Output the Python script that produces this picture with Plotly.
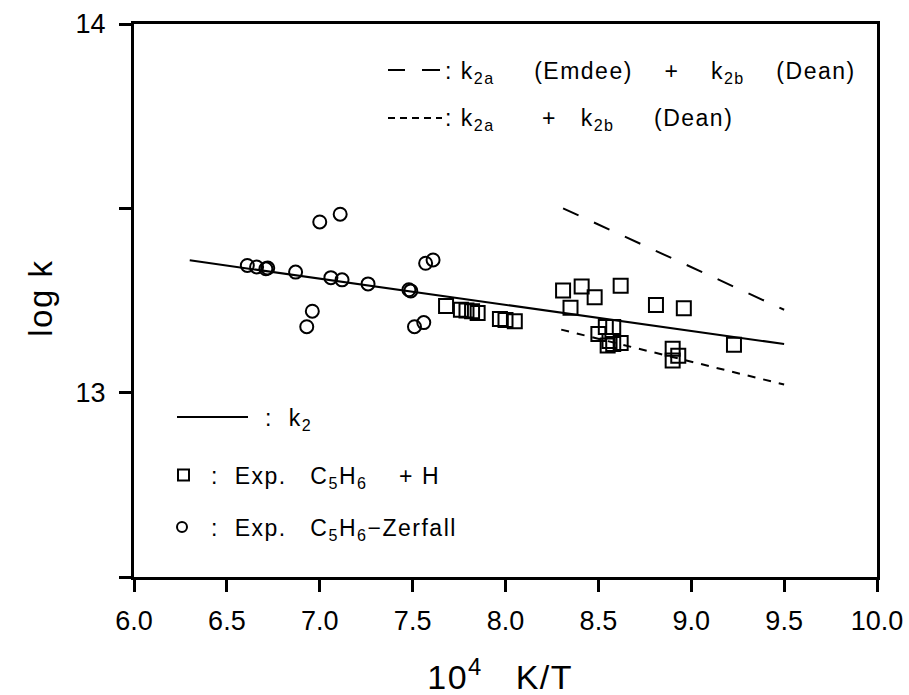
import plotly.graph_objects as go

# Rate constant for C5H6 + H / C5H6 decomposition, log k vs 10^4 K/T

# Experimental points: C5H6 decomposition (circles)
zerfall_x = [6.61, 6.66, 6.71, 6.72, 6.87, 7.06, 7.12, 7.26, 7.48, 7.49,
             7.00, 7.11, 7.57, 7.61, 6.96, 6.93, 7.51, 7.56]
zerfall_y = [13.345, 13.341, 13.336, 13.338, 13.327, 13.312, 13.306, 13.295, 13.279, 13.276,
             13.463, 13.484, 13.351, 13.360, 13.221, 13.179, 13.179, 13.190]

# Experimental points: C5H6 + H (squares)
addh_x = [7.68, 7.76, 7.79, 7.82, 7.85, 7.97, 8.00, 8.05,
          8.31, 8.41, 8.48, 8.35, 8.62, 8.81, 8.96,
          8.50, 8.54, 8.58, 8.55, 8.58, 8.62, 8.56,
          8.90, 8.93, 8.90, 9.23]
addh_y = [13.235, 13.225, 13.223, 13.221, 13.216, 13.200, 13.197, 13.194,
          13.277, 13.288, 13.259, 13.230, 13.290, 13.238, 13.229,
          13.159, 13.178, 13.178, 13.128, 13.132, 13.135, 13.140,
          13.119, 13.100, 13.087, 13.130]

# Model curves
k2_x = [6.30, 9.50]
k2_y = [13.359, 13.132]
emdee_x = [8.31, 9.50]
emdee_y = [13.500, 13.225]
dean_x = [8.30, 9.50]
dean_y = [13.171, 13.022]

x_ticks = [6.0, 6.5, 7.0, 7.5, 8.0, 8.5, 9.0, 9.5, 10.0]
y_ticks = [12.5, 13.0, 13.5, 14.0]
y_ticktext = ["", "13", "", "14"]

FONT = "Liberation Sans, Arial, Helvetica, sans-serif"
BLACK = "#000000"

fig = go.Figure()

fig.add_trace(go.Scatter(x=k2_x, y=k2_y, mode="lines",
                         line=dict(color=BLACK, width=2), hoverinfo="skip"))
fig.add_trace(go.Scatter(x=emdee_x, y=emdee_y, mode="lines",
                         line=dict(color=BLACK, width=2, dash="17px,17px"), hoverinfo="skip"))
fig.add_trace(go.Scatter(x=dean_x, y=dean_y, mode="lines",
                         line=dict(color=BLACK, width=2, dash="8px,8px"), hoverinfo="skip"))
fig.add_trace(go.Scatter(x=zerfall_x, y=zerfall_y, mode="markers",
                         marker=dict(symbol="circle-open", size=13,
                                     line=dict(color=BLACK, width=2), color=BLACK)))
fig.add_trace(go.Scatter(x=addh_x, y=addh_y, mode="markers",
                         marker=dict(symbol="square-open", size=14,
                                     line=dict(color=BLACK, width=2), color=BLACK)))

# Plot area in pixels, used to place the key in paper units
L, R, T, B = 134, 877, 24, 577


def px(xp):
    return (xp - L) / (R - L)


def py(yp):
    return (B - yp) / (B - T)


shapes = []
# long-dash key
shapes.append(dict(type="line", xref="paper", yref="paper",
                   x0=px(388), x1=px(405), y0=py(70), y1=py(70),
                   line=dict(color=BLACK, width=2)))
shapes.append(dict(type="line", xref="paper", yref="paper",
                   x0=px(422), x1=px(440), y0=py(70), y1=py(70),
                   line=dict(color=BLACK, width=2)))
# short-dash key
shapes.append(dict(type="line", xref="paper", yref="paper",
                   x0=px(388), x1=px(442), y0=py(118), y1=py(118),
                   line=dict(color=BLACK, width=2, dash="7px,5px")))
# solid key
shapes.append(dict(type="line", xref="paper", yref="paper",
                   x0=px(177), x1=px(248), y0=py(417), y1=py(417),
                   line=dict(color=BLACK, width=2)))
# square key
shapes.append(dict(type="rect", xref="paper", yref="paper",
                   x0=px(178), x1=px(189), y0=py(480.5), y1=py(469.5),
                   line=dict(color=BLACK, width=2)))
# circle key
shapes.append(dict(type="circle", xref="paper", yref="paper",
                   x0=px(177), x1=px(187), y0=py(532), y1=py(522),
                   line=dict(color=BLACK, width=2)))


def gap(n):
    return "\u00a0" * n


key_font = dict(family=FONT, size=23, color=BLACK)
annotations = [
    dict(text=f":{gap(1)}k<sub>2a</sub>{gap(5)}(Emdee){gap(4)}+{gap(4)}k<sub>2b</sub>{gap(4)}(Dean)",
         x=px(443), y=py(72)),
    dict(text=f":{gap(1)}k<sub>2a</sub>{gap(6)}+{gap(3)}k<sub>2b</sub>{gap(5)}(Dean)",
         x=px(443), y=py(120)),
    dict(text=f":{gap(2)}k<sub>2</sub>",
         x=px(263), y=py(419)),
    dict(text=f":{gap(2)}Exp.{gap(3)}C<sub>5</sub>H<sub>6</sub>{gap(4)}+{gap(1)}H",
         x=px(209), y=py(477)),
    dict(text=f":{gap(2)}Exp.{gap(3)}C<sub>5</sub>H<sub>6</sub>\u2212Zerfall",
         x=px(209), y=py(529)),
]
for a in annotations:
    a.update(xref="paper", yref="paper", showarrow=False, font=key_font,
             xanchor="left", yanchor="middle", align="left")

# axis titles
annotations.append(dict(text=f"10<sup>4</sup>{gap(3)}K/T",
                        xref="paper", yref="paper", x=px(500), y=py(674),
                        xanchor="center", yanchor="middle", showarrow=False,
                        font=dict(family=FONT, size=34, color=BLACK)))
annotations.append(dict(text="log k", textangle=-90,
                        xref="paper", yref="paper", x=px(40), y=py(298),
                        xanchor="center", yanchor="middle", showarrow=False,
                        font=dict(family=FONT, size=33, color=BLACK)))

fig.update_layout(
    width=909, height=695,
    margin=dict(l=L, r=909 - R, t=T, b=695 - B, autoexpand=False),
    paper_bgcolor="white", plot_bgcolor="white",
    showlegend=False,
    shapes=shapes, annotations=annotations,
    font=dict(family=FONT, color=BLACK),
)
fig.update_xaxes(range=[6.0, 10.0], tickvals=x_ticks,
                 ticktext=[f"{v:.1f}" for v in x_ticks],
                 showgrid=False, zeroline=False,
                 showline=True, linecolor=BLACK, linewidth=3, mirror=True,
                 ticks="outside", ticklen=12, tickwidth=2.5, tickcolor=BLACK,
                 ticklabelstandoff=6,
                 tickfont=dict(family=FONT, size=27, color=BLACK))
fig.update_yaxes(range=[12.5, 14.0], tickvals=y_ticks, ticktext=y_ticktext,
                 showgrid=False, zeroline=False,
                 showline=True, linecolor=BLACK, linewidth=3, mirror=True,
                 ticks="outside", ticklen=12, tickwidth=2.5, tickcolor=BLACK,
                 ticklabelstandoff=8,
                 tickfont=dict(family=FONT, size=27, color=BLACK))

# widen the letter spacing of the key and axis-title texts
spacing_js = """
document.querySelectorAll('.annotation-text').forEach(function (t) {
    t.style.letterSpacing = '1.5px';
});
"""

fig.write_html("out.html", post_script=spacing_js)
